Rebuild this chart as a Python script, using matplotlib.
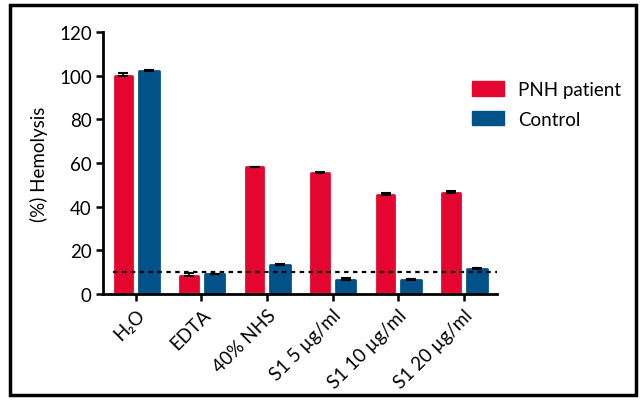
import matplotlib.pyplot as plt
import matplotlib.patches as mpatches
import numpy as np

plt.rcParams['font.family'] = ['Lato', 'DejaVu Sans']

categories = ["H₂O", "EDTA", "40% NHS", "S1 5 µg/ml", "S1 10 µg/ml", "S1 20 µg/ml"]
pnh_values = [100, 8.5, 58, 55.5, 45.5, 46.5]
pnh_err = [1.0, 1.0, 0.4, 0.4, 0.6, 0.5]
control_values = [102, 9, 13.5, 6.5, 6.5, 11.5]
control_err = [0.8, 0.3, 0.3, 1.0, 0.4, 0.4]
threshold = 10

red = "#E4062F"
blue = "#005288"

fig = plt.figure(figsize=(6.43, 4.02), dpi=100)
ax = fig.add_axes([0.160, 0.266, 0.613, 0.652])

x = np.arange(len(categories))
ax.bar(x - 0.19, pnh_values, width=0.27, color=red, edgecolor=red,
       linewidth=2, joinstyle="round", zorder=2)
ax.bar(x + 0.20, control_values, width=0.30, color=blue, edgecolor=blue,
       linewidth=2, joinstyle="round", zorder=2)
ax.errorbar(x - 0.19, pnh_values, yerr=[np.zeros(len(x)), pnh_err], fmt="none",
            ecolor="black", elinewidth=1.2, capsize=3.5, capthick=1.5, zorder=3)
ax.errorbar(x + 0.20, control_values, yerr=[np.zeros(len(x)), control_err], fmt="none",
            ecolor="black", elinewidth=1.2, capsize=3.5, capthick=1.5, zorder=3)

ax.plot([-0.35, 5.51], [threshold, threshold], color="black", lw=1.6,
        linestyle=(0, (2, 2)), zorder=4)

ax.set_xlim(-0.504, 5.51)
ax.set_ylim(0, 120)
ax.set_yticks(np.arange(0, 121, 20))
ax.set_xticks(x)
ax.set_xticklabels(categories, rotation=45, ha="right", rotation_mode="anchor")
ax.tick_params(axis="both", labelsize=13.5, width=1.8, length=5, color="black")
ax.tick_params(axis="y", pad=3)
ax.set_ylabel("(%) Hemolysis", fontsize=13.5, labelpad=8)

for side in ["top", "right"]:
    ax.spines[side].set_visible(False)
for side in ["left", "bottom"]:
    ax.spines[side].set_linewidth(2)
    ax.spines[side].set_zorder(5)

handles = [mpatches.Patch(color=red, label="PNH patient"),
           mpatches.Patch(color=blue, label="Control")]
fig.legend(handles=handles, loc="upper left", bbox_to_anchor=(0.708, 0.838),
           frameon=False, fontsize=13.5, handlelength=1.7, handleheight=0.8,
           handletextpad=0.75, labelspacing=0.68)

fig.patches.append(mpatches.Rectangle((10 / 643, 6 / 402), 626 / 643, 390 / 402,
                                      transform=fig.transFigure, fill=False,
                                      edgecolor="black", linewidth=2.5))

fig.savefig("out.png", dpi=100)
